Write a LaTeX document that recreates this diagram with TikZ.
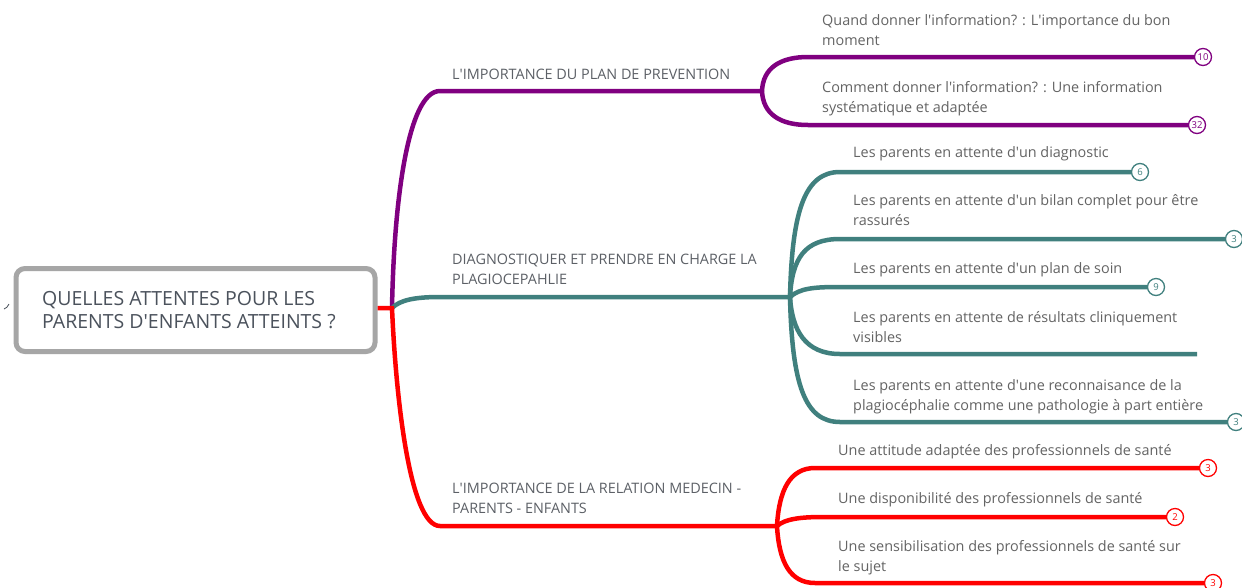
\documentclass[tikz,border=0pt]{standalone}
\usepackage{fontspec}
\setmainfont{Open Sans}
\definecolor{purp}{RGB}{128,0,128}
\definecolor{tealc}{RGB}{64,128,126}
\definecolor{redc}{RGB}{255,0,0}
\definecolor{boxgray}{RGB}{166,166,166}
\definecolor{titlegray}{RGB}{75,82,92}
\definecolor{lonegray}{RGB}{92,96,102}
\definecolor{txtgray}{RGB}{100,100,100}
\newcommand{\q}{\textquotesingle}
\begin{document}
\begin{tikzpicture}[x=1pt,y=-1pt,
  br/.style={line width=4.5pt},
  lab/.style={anchor=base west, inner sep=0pt, align=left, font=\fontsize{14.4}{19.5}\selectfont, text=txtgray},
  lone/.style={lab, text=lonegray},
  badge/.style={circle, draw, fill=white, line width=1.3pt, minimum size=17pt, inner sep=0pt, font=\fontsize{9.5}{10}\selectfont},
  rootbox/.style={draw=boxgray, line width=5pt, rounded corners=9pt, fill=white, minimum width=359pt, minimum height=83pt, inner sep=0pt}
]
\useasboundingbox (0,0) rectangle (1242,587);
\fill[white] (0,0) rectangle (1242,587);

% central topic
\node[rootbox] (root) at (195.5,310) {};
\node[anchor=base west, inner sep=0pt, align=left, font=\fontsize{19.5}{23}\selectfont, text=titlegray] (title) at (42,328) {QUELLES ATTENTES POUR LES\\PARENTS D\q ENFANTS ATTEINTS ?};
\draw[line width=0.8pt, titlegray] (4,309) .. controls (6,308) and (8,307) .. (9,304);

\coordinate (hub) at (392,308);
\coordinate (pP) at (762,91);
\coordinate (pT) at (790,297);
\coordinate (pR) at (777,526);

% purple branch
\draw[br, purp] (hub) .. controls (394,200) and (408,91) .. (440,91) -- (pP);
\coordinate (eP1) at (1203,57);
\coordinate (eP2) at (1197,125);
\draw[br, purp] (pP) .. controls (763,68) and (780,57) .. (808,57) -- (eP1);
\draw[br, purp] (pP) .. controls (763,114) and (780,125) .. (808,125) -- (eP2);

% teal branch
\draw[br, tealc] (hub) .. controls (400,300) and (415,297) .. (440,297) -- (pT);
\coordinate (eT1) at (1140,172);
\coordinate (eT2) at (1234,239);
\coordinate (eT3) at (1156,287);
\coordinate (eT4) at (1197,354);
\coordinate (eT5) at (1236,422);
\draw[br, tealc] (pT) .. controls (792,210) and (805,172) .. (840,172) -- (eT1);
\draw[br, tealc] (pT) .. controls (792,258) and (805,239) .. (840,239) -- (eT2);
\draw[br, tealc] (pT) .. controls (800,288) and (815,287) .. (840,287) -- (eT3);
\draw[br, tealc] (pT) .. controls (792,330) and (805,354) .. (840,354) -- (eT4);
\draw[br, tealc] (pT) .. controls (792,385) and (805,422) .. (840,422) -- (eT5);

% red branch
\draw[br, redc] (root.east |- hub) -- (hub) .. controls (396,400) and (410,526) .. (440,526) -- (pR);
\coordinate (eR1) at (1208,468);
\coordinate (eR2) at (1175,517);
\coordinate (eR3) at (1213,583);
\draw[br, redc] (pR) .. controls (779,490) and (790,468) .. (815,468) -- (eR1);
\draw[br, redc] (pR) .. controls (785,519) and (800,517) .. (823,517) -- (eR2);
\draw[br, redc] (pR) .. controls (779,562) and (790,583) .. (815,583) -- (eR3);

% badges
\node[badge, draw=purp, text=purp] (bP1) at (eP1) {10};
\node[badge, draw=purp, text=purp] (bP2) at (eP2) {32};
\node[badge, draw=tealc, text=tealc] (bT1) at (eT1) {6};
\node[badge, draw=tealc, text=tealc] (bT2) at (eT2) {3};
\node[badge, draw=tealc, text=tealc] (bT3) at (eT3) {9};
\node[badge, draw=tealc, text=tealc] (bT5) at (eT5) {3};
\node[badge, draw=redc, text=redc] (bR1) at (eR1) {3};
\node[badge, draw=redc, text=redc] (bR2) at (eR2) {2};
\node[badge, draw=redc, text=redc] (bR3) at (eR3) {3};

% level 1 labels (base = last line)
\node[lone] (lP) at (452,79) {L\q IMPORTANCE DU PLAN DE PREVENTION};
\node[lone] (lT) at (452,284) {DIAGNOSTIQUER ET PRENDRE EN CHARGE LA\\PLAGIOCEPAHLIE};
\node[lone] (lR) at (452,513) {L\q IMPORTANCE DE LA RELATION MEDECIN -\\PARENTS - ENFANTS};

% level 2 labels (base = last line)
\node[lab] (cP1) at (822,45) {Quand donner l\q information? : L\q importance du bon\\moment};
\node[lab] (cP2) at (822,112) {Comment donner l\q information? : Une information\\systématique et adaptée};
\node[lab] (cT1) at (853,157) {Les parents en attente d\q un diagnostic};
\node[lab] (cT2) at (853,225) {Les parents en attente d\q un bilan complet pour être\\rassurés};
\node[lab] (cT3) at (853,273) {Les parents en attente d\q un plan de soin};
\node[lab] (cT4) at (853,342) {Les parents en attente de résultats cliniquement\\visibles};
\node[lab] (cT5) at (853,410) {Les parents en attente d\q une reconnaisance de la\\plagiocéphalie comme une pathologie à part entière};
\node[lab] (cR1) at (838,455) {Une attitude adaptée des professionnels de santé};
\node[lab] (cR2) at (838,503) {Une disponibilité des professionnels de santé};
\node[lab] (cR3) at (838,571) {Une sensibilisation des professionnels de santé sur\\le sujet};
\end{tikzpicture}
\end{document}
